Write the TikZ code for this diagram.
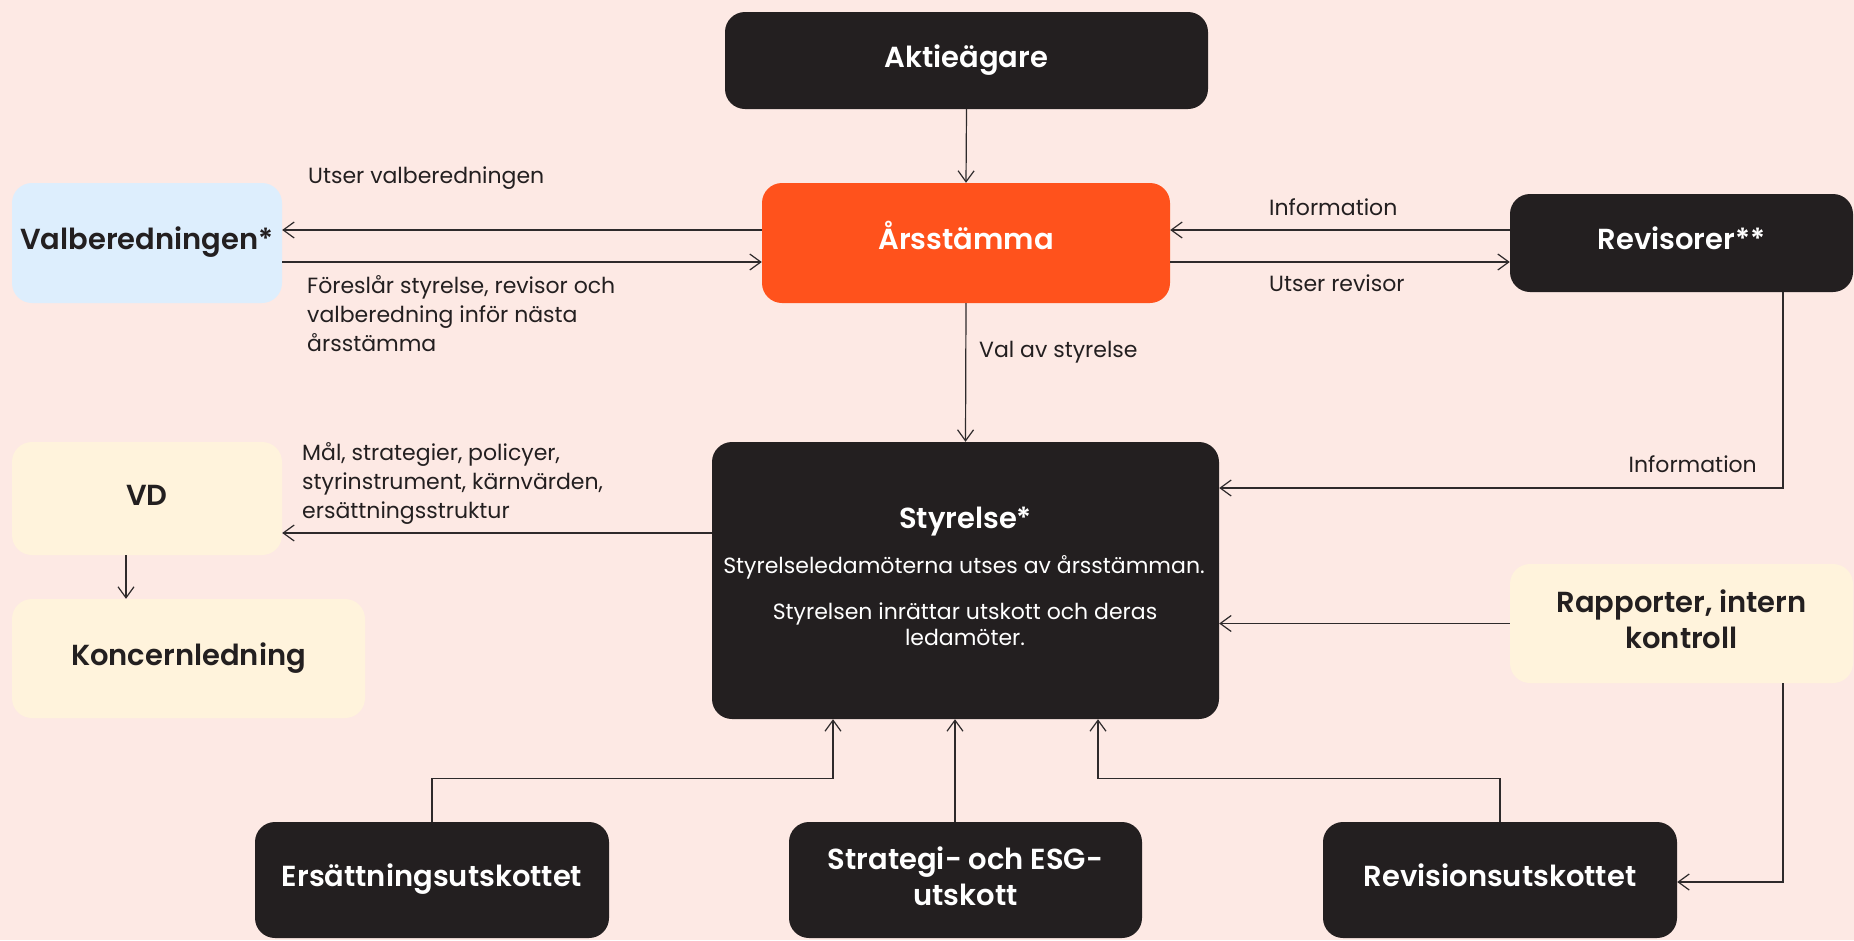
\documentclass[tikz,border=0pt]{standalone}
\usepackage{fontspec}
\setmainfont{Poppins}[BoldFont={Poppins SemiBold}]
\usetikzlibrary{arrows.meta,calc}
\definecolor{bgpink}{HTML}{FDE9E4}
\definecolor{darkbox}{HTML}{231F20}
\definecolor{orangebox}{HTML}{FF521C}
\definecolor{bluebox}{HTML}{DDEEFD}
\definecolor{yellowbox}{HTML}{FFF3DC}
\definecolor{linecol}{HTML}{2E2A2B}
\tikzset{
  box/.style={rectangle, rounded corners=20pt, inner sep=0pt, align=center,
    font=\bfseries\fontsize{29}{37}\selectfont},
  sl/.style={text height=20pt, text depth=7pt},
  darkb/.style={box, fill=darkbox, text=white},
  orangeb/.style={box, fill=orangebox, text=white},
  blueb/.style={box, fill=bluebox, text=darkbox},
  yellowb/.style={box, fill=yellowbox, text=darkbox},
  lbl/.style={inner sep=0pt, align=left, text=darkbox, font=\fontsize{22}{29}\selectfont},
  inbox/.style={inner sep=0pt, align=center, text=white, font=\fontsize{22}{26}\selectfont},
  arr/.style={draw=linecol, line width=1.2pt, -{Straight Barb[length=11pt,width=16pt,line width=1.2pt]}}
}
\begin{document}
\begin{tikzpicture}[x=1pt,y=-1pt]
\fill[bgpink] (0,0) rectangle (1854,940);
\useasboundingbox (0,0) rectangle (1854,940);
\begin{scope}
\clip (0,0) rectangle (1854,940);
% boxes
\node[darkb, sl, minimum width=483pt, minimum height=97pt] (aktie) at (966.5,60.5) {Aktieägare};
\node[orangeb, sl, minimum width=408pt, minimum height=120pt] (ars) at (966,243) {Årsstämma};
\node[blueb, sl, minimum width=270pt, minimum height=120pt] (valb) at (147,243) {Valberedningen*};
\node[darkb, sl, minimum width=343pt, minimum height=98pt] (rev) at (1681.5,243) {Revisorer**};
\node[darkb, minimum width=507pt, minimum height=277pt] (styr) at (965.5,580.5) {};
\node[yellowb, sl, minimum width=270pt, minimum height=113pt] (vd) at (147,498.5) {VD};
\node[yellowb, sl, minimum width=353pt, minimum height=119pt] (konc) at (188.5,658.5) {Koncernledning};
\node[yellowb, minimum width=343pt, minimum height=119pt] (rapp) at (1681.5,623.5) {Rapporter, intern\\[-1pt]kontroll\vphantom{g}};
\node[darkb, sl, minimum width=354pt, minimum height=116pt] (ers) at (432,880) {Ersättningsutskottet};
\node[darkb, minimum width=353pt, minimum height=116pt] (strat) at (965.5,880) {Strategi- och ESG-\\[-1pt]utskott\vphantom{g}};
\node[darkb, sl, minimum width=354pt, minimum height=116pt] (revu) at (1500,880) {Revisionsutskottet};
% text inside Styrelse
\node[inbox, font=\bfseries\fontsize{29}{34}\selectfont] (styrT) at (965.5,522) {Styrelse*};
\node[inbox] (styrA) at (964,567) {Styrelseledamöterna utses av årsstämman.};
\node[inbox] (styrB) at (965,624) {Styrelsen inrättar utskott och deras\\ledamöter.};
% labels
\node[lbl, anchor=west] (l1) at (308,178) {Utser valberedningen};
\node[lbl, anchor=west] (l2) at (307,314) {Föreslår styrelse, revisor och\\valberedning inför nästa\\årsstämma};
\node[lbl, anchor=west] (l3) at (302,483) {Mål, strategier, policyer,\\styrinstrument, kärnvärden,\\ersättningsstruktur};
\node[lbl, anchor=west] (l4) at (1269,207) {Information};
\node[lbl, anchor=west] (l5) at (1269,283) {Utser revisor};
\node[lbl, anchor=west] (l6) at (979,352) {Val av styrelse};
\node[lbl, anchor=east] (l7) at (1757,464) {Information};
% connectors
\draw[arr] (aktie.south) -- (ars.north);
\draw[arr] ([yshift=13pt]ars.west) -- ([yshift=13pt]valb.east);
\draw[arr] ([yshift=-19pt]valb.east) -- ([yshift=-19pt]ars.west);
\draw[arr] ([yshift=13pt]rev.west) -- ([yshift=13pt]ars.east);
\draw[arr] ([yshift=-19pt]ars.east) -- ([yshift=-19pt]rev.west);
\draw[arr] (ars.south) -- (styr.north);
\draw[arr] ([xshift=101.5pt]rev.south) |- ([yshift=92.5pt]styr.east);
\draw[arr] (rapp.west) -- (rapp.west -| styr.east);
\draw[arr] ([xshift=101.5pt]rapp.south) |- ([yshift=-2pt]revu.east);
\coordinate (vdin) at ([yshift=-34.5pt]vd.east);
\draw[arr] (vdin -| styr.west) -- (vdin);
\draw[arr] ([xshift=-21pt]vd.south) -- ([xshift=-21pt]vd.south |- konc.north);
\draw[arr] (ers.north) |- ([xshift=-132.5pt,yshift=-59pt]styr.south) -- ([xshift=-132.5pt]styr.south);
\draw[arr] ([xshift=-10.5pt]strat.north) -- ([xshift=-10.5pt]styr.south);
\draw[arr] (revu.north) |- ([xshift=132.5pt,yshift=-59pt]styr.south) -- ([xshift=132.5pt]styr.south);
\end{scope}
\end{tikzpicture}
\end{document}
